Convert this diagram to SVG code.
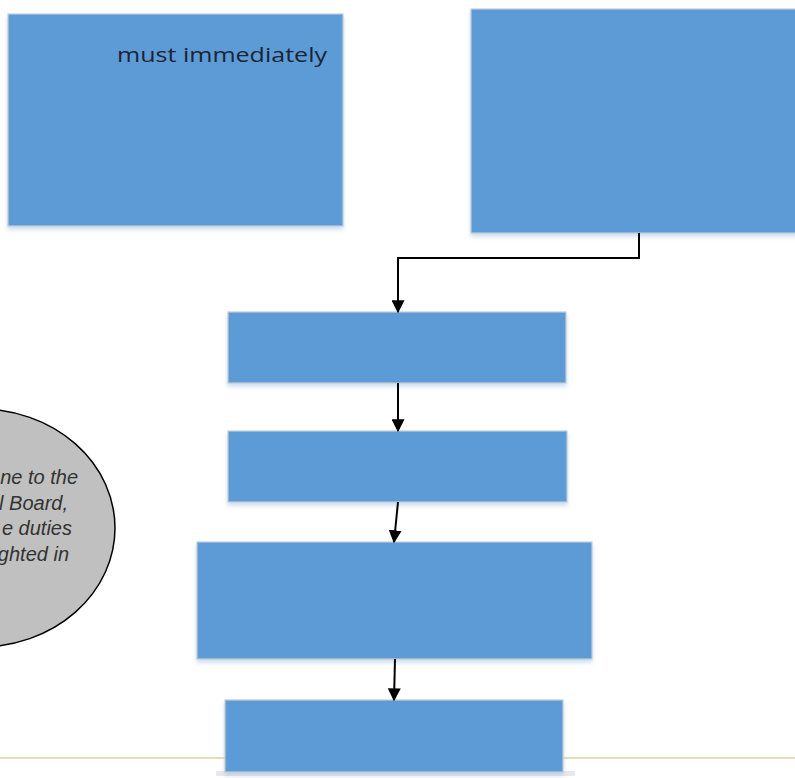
<svg xmlns="http://www.w3.org/2000/svg" width="795" height="778" viewBox="0 0 795 778">
<defs>
<marker id="arr" viewBox="0 0 10 10" refX="9" refY="5" markerWidth="6.5" markerHeight="6.5" orient="auto" markerUnits="strokeWidth">
<path d="M0,0 L10,5 L0,10 z" fill="#000"/>
</marker>
<filter id="sh" x="-5%" y="-5%" width="110%" height="115%">
<feGaussianBlur in="SourceAlpha" stdDeviation="2"/>
<feOffset dx="0" dy="3" result="b"/>
<feFlood flood-color="#9dbbe0" flood-opacity="0.5"/>
<feComposite in2="b" operator="in"/>
<feMerge><feMergeNode/><feMergeNode in="SourceGraphic"/></feMerge>
</filter>
</defs>
<style>
.box{fill:#5B9BD5;stroke:#c4ccd6;stroke-width:1.2;filter:url(#sh)}
.con{fill:none;stroke:#000;stroke-width:2;marker-end:url(#arr)}
.t1{font-family:"Open Sans","Liberation Sans",sans-serif;font-size:20px;fill:#1a2533}
.t2{font-family:"Liberation Sans",Arial,sans-serif;font-size:20px;font-style:italic;fill:#333}
</style>
<rect width="795" height="778" fill="#fff"/>
<line x1="0" y1="758" x2="795" y2="758" stroke="#e2deb6" stroke-width="2"/>
<rect x="216" y="771" width="359" height="5" fill="#e6e8eb"/>
<g id="ellipse">
<ellipse cx="-20" cy="528" rx="135" ry="119" fill="#c0c0c0" stroke="#000" stroke-width="1.5"/>
<text class="t2" x="78" y="484" text-anchor="end">ne to the</text>
<text class="t2" x="68" y="510" text-anchor="end">l Board,</text>
<text class="t2" x="72" y="535" text-anchor="end">e duties</text>
<text class="t2" x="69" y="561" text-anchor="end">ghted in</text>
</g>
<g id="n1">
<rect class="box" x="8" y="14" width="335" height="212"/>
<text class="t1" x="327" y="62" text-anchor="end" textLength="210" lengthAdjust="spacingAndGlyphs">must immediately</text>
</g>
<g id="n2"><rect class="box" x="471" y="9" width="330" height="224"/></g>
<g id="n3"><rect class="box" x="228" y="312" width="338" height="71"/></g>
<g id="n4"><rect class="box" x="228" y="431" width="339" height="71"/></g>
<g id="n5"><rect class="box" x="197" y="542" width="395" height="117"/></g>
<g id="n6"><rect class="box" x="225" y="700" width="338" height="72"/></g>
<g id="connectors">
<path class="con" d="M639,233 V258 H398 V312"/>
<path class="con" d="M398,383 V431"/>
<path class="con" d="M398,502 L394,542"/>
<path class="con" d="M395,659 L394,700"/>
</g>
</svg>
